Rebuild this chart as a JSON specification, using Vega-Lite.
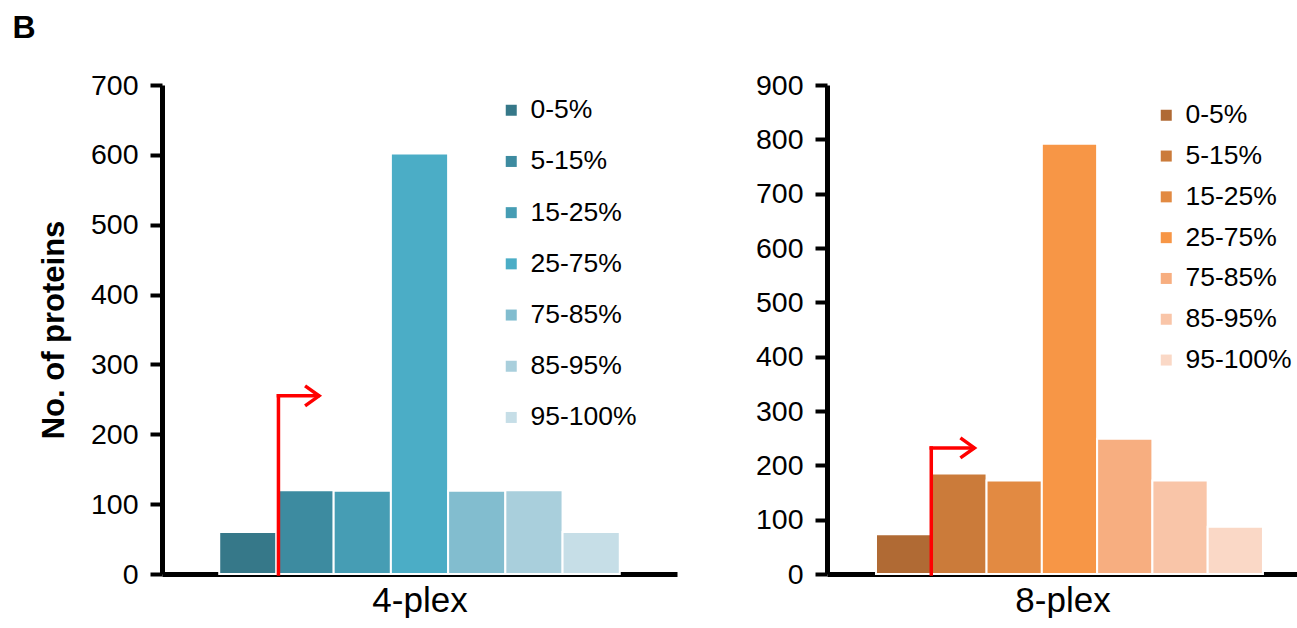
{
  "$schema": "https://vega.github.io/schema/vega-lite/v6.json",
  "background": "white",
  "padding": {"left": 12, "top": 12, "right": 0, "bottom": 0},
  "config": {
    "font": "Liberation Sans",
    "view": {"stroke": null},
    "axis": {"domainColor": "black", "domainWidth": 5, "tickColor": "black", "tickWidth": 4, "tickSize": 12, "labelFontSize": 28.5, "labelColor": "black", "labelPadding": 12, "titleFontSize": 31, "titleFontWeight": "bold", "titleColor": "black", "grid": false, "zindex": 1},
    "legend": {"orient": "none", "title": null, "symbolType": "square", "symbolSize": 121, "symbolStrokeWidth": 0, "labelFontSize": 26.5, "labelColor": "black", "labelOffset": 6, "padding": 0}
  },
  "title": {"text": "B", "anchor": "start", "frame": "bounds", "fontSize": 32, "fontWeight": "bold", "color": "black", "dx": -26, "offset": 26},
  "datasets": {
    "counts": [
      {"plex": "4-plex", "bin": "0-5%", "count": 60},
      {"plex": "4-plex", "bin": "5-15%", "count": 120},
      {"plex": "4-plex", "bin": "15-25%", "count": 119},
      {"plex": "4-plex", "bin": "25-75%", "count": 602},
      {"plex": "4-plex", "bin": "75-85%", "count": 119},
      {"plex": "4-plex", "bin": "85-95%", "count": 120},
      {"plex": "4-plex", "bin": "95-100%", "count": 60},
      {"plex": "8-plex", "bin": "0-5%", "count": 73},
      {"plex": "8-plex", "bin": "5-15%", "count": 185},
      {"plex": "8-plex", "bin": "15-25%", "count": 172},
      {"plex": "8-plex", "bin": "25-75%", "count": 792},
      {"plex": "8-plex", "bin": "75-85%", "count": 249},
      {"plex": "8-plex", "bin": "85-95%", "count": 172},
      {"plex": "8-plex", "bin": "95-100%", "count": 87}
    ],
    "arrows": [
      {"plex": "4-plex", "x": 1, "xEnd": 1, "count": 0, "countEnd": 255},
      {"plex": "4-plex", "x": 1, "xEnd": 1.7, "count": 255, "countEnd": 255},
      {"plex": "8-plex", "x": 1, "xEnd": 1, "count": 0, "countEnd": 232},
      {"plex": "8-plex", "x": 1, "xEnd": 1.76, "count": 232, "countEnd": 232}
    ],
    "heads": [
      {"plex": "4-plex", "x": 1.72, "count": 255},
      {"plex": "8-plex", "x": 1.78, "count": 232}
    ]
  },
  "hconcat": [
    {
      "width": 515,
      "height": 489,
      "encoding": {
        "y": {"field": "count", "type": "quantitative", "scale": {"domain": [0, 700]}, "axis": {"title": "No. of proteins", "values": [0, 100, 200, 300, 400, 500, 600, 700], "titlePadding": 20}}
      },
      "layer": [
        {
          "data": {"name": "counts"},
          "transform": [{"filter": "datum.plex === '4-plex'"}],
          "mark": {"type": "bar", "stroke": "white", "strokeWidth": 2},
          "encoding": {
            "x": {"field": "bin", "type": "nominal", "sort": ["0-5%", "5-15%", "15-25%", "25-75%", "75-85%", "85-95%", "95-100%"], "scale": {"paddingInner": 0, "paddingOuter": 1.064, "align": 0.5}, "axis": {"title": "4-plex", "labels": false, "ticks": false, "titleFontSize": 35, "titleFontWeight": "normal", "titlePadding": 9}},
            "color": {"field": "bin", "type": "nominal", "scale": {"domain": ["0-5%", "5-15%", "15-25%", "25-75%", "75-85%", "85-95%", "95-100%"], "range": ["#367889", "#3D8BA0", "#469DB4", "#4BADC6", "#82BDCF", "#A9CFDC", "#C6DEE7"]}, "legend": {"legendX": 336, "legendY": 12, "rowPadding": 24.2}}
          }
        },
        {
          "data": {"name": "arrows"},
          "transform": [{"filter": "datum.plex === '4-plex'"}],
          "mark": {"type": "rule", "color": "#FF0000", "strokeWidth": 3.5, "strokeCap": "square"},
          "encoding": {
            "x": {"field": "x", "type": "quantitative", "scale": {"domain": [-1.064, 8.064]}, "axis": null},
            "x2": {"field": "xEnd"},
            "y2": {"field": "countEnd"}
          }
        },
        {
          "data": {"name": "heads"},
          "transform": [{"filter": "datum.plex === '4-plex'"}],
          "mark": {"type": "point", "shape": "M -1.4 -1 L 0 0 L -1.4 1", "size": 400, "filled": false, "stroke": "#FF0000", "strokeWidth": 3.5, "opacity": 1},
          "encoding": {
            "x": {"field": "x", "type": "quantitative", "scale": {"domain": [-1.064, 8.064]}, "axis": null}
          }
        }
      ],
      "resolve": {"scale": {"x": "independent"}}
    },
    {
      "width": 471,
      "height": 489,
      "encoding": {
        "y": {"field": "count", "type": "quantitative", "scale": {"domain": [0, 900]}, "axis": {"title": null, "values": [0, 100, 200, 300, 400, 500, 600, 700, 800, 900]}}
      },
      "layer": [
        {
          "data": {"name": "counts"},
          "transform": [{"filter": "datum.plex === '8-plex'"}],
          "mark": {"type": "bar", "stroke": "white", "strokeWidth": 2},
          "encoding": {
            "x": {"field": "bin", "type": "nominal", "sort": ["0-5%", "5-15%", "15-25%", "25-75%", "75-85%", "85-95%", "95-100%"], "scale": {"paddingInner": 0, "paddingOuter": 0.76, "align": 0.583}, "axis": {"title": "8-plex", "labels": false, "ticks": false, "titleFontSize": 35, "titleFontWeight": "normal", "titlePadding": 9}},
            "color": {"field": "bin", "type": "nominal", "scale": {"domain": ["0-5%", "5-15%", "15-25%", "25-75%", "75-85%", "85-95%", "95-100%"], "range": ["#B06A34", "#CB7B3A", "#E28A42", "#F79646", "#F7AE80", "#F9C5A8", "#FAD8C6"]}, "legend": {"legendX": 326, "legendY": 17, "rowPadding": 13.8}}
          }
        },
        {
          "data": {"name": "arrows"},
          "transform": [{"filter": "datum.plex === '8-plex'"}],
          "mark": {"type": "rule", "color": "#FF0000", "strokeWidth": 3.5, "strokeCap": "square"},
          "encoding": {
            "x": {"field": "x", "type": "quantitative", "scale": {"domain": [-0.886, 7.633]}, "axis": null},
            "x2": {"field": "xEnd"},
            "y2": {"field": "countEnd"}
          }
        },
        {
          "data": {"name": "heads"},
          "transform": [{"filter": "datum.plex === '8-plex'"}],
          "mark": {"type": "point", "shape": "M -1.4 -1 L 0 0 L -1.4 1", "size": 400, "filled": false, "stroke": "#FF0000", "strokeWidth": 3.5, "opacity": 1},
          "encoding": {
            "x": {"field": "x", "type": "quantitative", "scale": {"domain": [-0.886, 7.633]}, "axis": null}
          }
        }
      ],
      "resolve": {"scale": {"x": "independent"}}
    }
  ],
  "spacing": 78,
  "resolve": {"scale": {"color": "independent", "x": "independent", "y": "independent"}, "legend": {"color": "independent"}}
}
